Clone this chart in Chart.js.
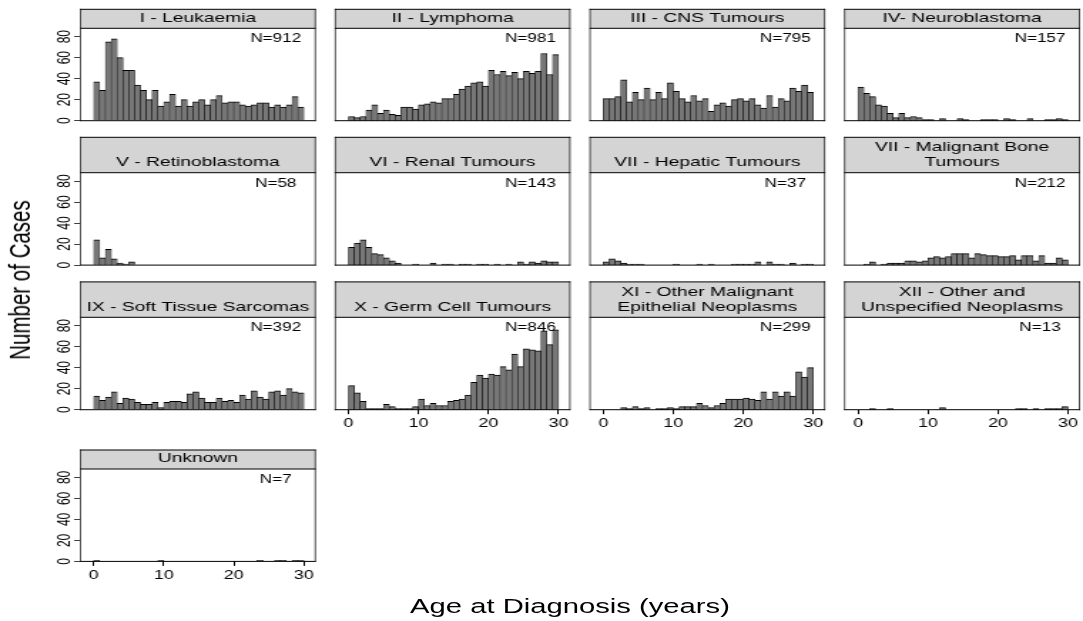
<!DOCTYPE html>
<html>
<head>
<meta charset="utf-8">
<script src="https://cdn.jsdelivr.net/npm/chart.js@4/dist/chart.umd.min.js"></script>
<style>
  html, body { margin: 0; padding: 0; background: #fff; overflow: hidden; }
  #stage { position: absolute; left: 0; top: 0; height: 621px; transform-origin: 0 0; }
  #stage canvas { position: absolute; left: 0; top: 0; }
  .axis-title { position: absolute; font-family: "Liberation Sans", Arial, sans-serif; font-size: 20.5px; color: #000; white-space: nowrap; transform: translate(-50%, -50%); }
</style>
</head>
<body>
<div id="stage"></div>
<script>
// ---- data: cases per 10-month age bin, ages 0 to 30 years ----
const binStartMonths = [0, 10, 20, 30, 40, 50, 60, 70, 80, 90, 100, 110, 120, 130, 140, 150, 160, 170,
                        180, 190, 200, 210, 220, 230, 240, 250, 260, 270, 280, 290, 300, 310, 320, 330, 340, 350];
const binWidthMonths = 10;

const panelTitles = [
  ["I - Leukaemia"], ["II - Lymphoma"], ["III - CNS Tumours"], ["IV- Neuroblastoma"],
  ["V - Retinoblastoma"], ["VI - Renal Tumours"], ["VII - Hepatic Tumours"], ["VII - Malignant Bone", "Tumours"],
  ["IX - Soft Tissue Sarcomas"], ["X - Germ Cell Tumours"], ["XI - Other Malignant", "Epithelial Neoplasms"],
  ["XII - Other and", "Unspecified Neoplasms"], ["Unknown"]
];
const panelTotals = [912, 981, 795, 157, 58, 143, 37, 212, 392, 846, 299, 13, 7];

const leukaemia      = [37, 29, 75, 78, 60, 48, 48, 34, 29, 20, 29, 14, 18, 25, 14, 20, 14, 18, 20, 15, 20, 24, 17, 18, 18, 15, 14, 15, 17, 17, 13, 15, 13, 15, 23, 13];
const lymphoma       = [4, 3, 4, 10, 15, 7, 10, 6, 5, 13, 13, 11, 15, 16, 18, 17, 21, 21, 25, 30, 33, 36, 37, 33, 48, 44, 47, 43, 46, 40, 47, 45, 47, 64, 44, 63];
const cnsTumours     = [21, 21, 23, 39, 18, 27, 20, 31, 20, 27, 21, 36, 28, 21, 18, 24, 19, 21, 9, 15, 17, 14, 20, 21, 19, 21, 15, 12, 24, 13, 21, 19, 31, 28, 34, 27];
const neuroblastoma  = [32, 26, 23, 15, 14, 7, 3, 7, 3, 4, 3, 1, 1, 0, 2, 0, 0, 2, 1, 0, 0, 1, 1, 1, 0, 2, 1, 0, 0, 2, 0, 0, 1, 1, 2, 1];
const retinoblastoma = [24, 7, 15, 6, 2, 1, 3, 0, 0, 0, 0, 0, 0, 0, 0, 0, 0, 0, 0, 0, 0, 0, 0, 0, 0, 0, 0, 0, 0, 0, 0, 0, 0, 0, 0, 0];
const renalTumours   = [17, 21, 24, 17, 11, 10, 7, 4, 2, 0, 0, 1, 0, 0, 2, 0, 1, 1, 0, 1, 1, 0, 1, 1, 0, 1, 0, 1, 0, 3, 1, 3, 2, 4, 3, 3];
const hepaticTumours = [3, 6, 4, 2, 1, 1, 1, 0, 0, 0, 0, 0, 1, 0, 0, 0, 1, 0, 1, 0, 0, 0, 1, 1, 1, 1, 3, 0, 3, 1, 1, 0, 2, 0, 1, 1];
const boneTumours    = [0, 1, 3, 0, 1, 2, 2, 2, 4, 4, 3, 4, 7, 8, 7, 8, 11, 11, 11, 7, 11, 10, 9, 9, 8, 8, 9, 5, 9, 9, 4, 9, 2, 2, 7, 5];
const softTissue     = [13, 9, 12, 17, 6, 11, 10, 7, 5, 5, 7, 2, 7, 8, 8, 7, 15, 17, 11, 7, 7, 11, 8, 9, 7, 14, 10, 18, 12, 10, 17, 18, 14, 20, 17, 16];
const germCell       = [23, 16, 8, 1, 1, 1, 5, 3, 1, 1, 1, 3, 10, 4, 6, 4, 4, 8, 9, 10, 14, 26, 33, 30, 34, 33, 41, 38, 53, 41, 58, 57, 56, 75, 62, 76];
const epithelial     = [0, 0, 0, 2, 1, 3, 1, 2, 0, 1, 1, 2, 1, 3, 3, 3, 6, 4, 2, 4, 6, 10, 10, 10, 11, 10, 9, 17, 10, 17, 13, 17, 13, 36, 31, 40];
const otherNeoplasms = [0, 0, 1, 0, 0, 1, 0, 0, 0, 0, 0, 0, 0, 0, 2, 0, 0, 0, 0, 0, 0, 0, 0, 0, 0, 0, 0, 1, 1, 0, 1, 0, 1, 1, 1, 3];
const unknownGroup   = [1, 0, 0, 0, 0, 0, 0, 0, 0, 0, 0, 1, 0, 0, 0, 0, 0, 0, 0, 0, 0, 0, 0, 0, 0, 0, 0, 0, 1, 0, 0, 1, 1, 0, 1, 1];

const panelSeries = [leukaemia, lymphoma, cnsTumours, neuroblastoma, retinoblastoma, renalTumours, hepaticTumours,
                     boneTumours, softTissue, germCell, epithelial, otherNeoplasms, unknownGroup];

const xTickValues = [0, 10, 20, 30];
const yTickValues = [0, 20, 40, 60, 80];

// ---- layout (page pixels) ----
const PAGE_W = 1083, PAGE_H = 621;
const STAGE_W = 760;                 // drawing width; stage is stretched horizontally to the page
const KX = PAGE_W / STAGE_W;
const FAMILY = '"Liberation Sans", Arial, Helvetica, sans-serif';

const colLeft  = [80.5, 335.2, 590, 844.7];
const panelW   = 234.7;
const rowTop   = [28.3, 172.7, 317.3, 469];
const panelH   = 92.4;
const stripH   = [19, 35.4, 35.4, 19];
const xRange   = [-1.9, 31.63];
const yRange   = [0, 88];
const countLabelAt = [26, 78];
const yLabelCenterX = 65.5;

const Y_AXIS_W = 20, X_AXIS_H = 26;
const BAR_FILL = '#777777', STRIP_FILL = '#d4d4d4';

const stage = document.getElementById('stage');
stage.style.width = STAGE_W + 'px';
stage.style.transform = 'scaleX(' + KX + ')';

// panel frame, strip with its title, vertical tick labels and the case count
const panelDecor = {
  id: 'panelDecor',
  afterDatasetsDraw(chart, args, o) {
    const { ctx, chartArea: a, scales } = chart;
    const vw = 1 / KX;
    ctx.save();
    ctx.fillStyle = '#000';
    ctx.font = '12px ' + FAMILY;
    ctx.textAlign = 'center';
    ctx.textBaseline = 'middle';
    ctx.fillText('N=' + o.total, scales.x.getPixelForValue(countLabelAt[0]), scales.y.getPixelForValue(countLabelAt[1]));

    if (o.showY) {
      for (const v of yTickValues) {
        ctx.save();
        ctx.translate(yLabelCenterX / KX, scales.y.getPixelForValue(v));
        ctx.rotate(-Math.PI / 2);
        ctx.fillText(String(v), 0, 0);
        ctx.restore();
      }
    }

    const sTop = a.top - o.stripH;
    ctx.fillStyle = STRIP_FILL;
    ctx.fillRect(a.left, sTop, a.right - a.left, o.stripH);

    ctx.fillStyle = '#000';
    const hLine = (y) => ctx.fillRect(a.left - vw / 2, y - 0.5, a.right - a.left + vw, 1);
    const vLine = (x, y0, y1) => ctx.fillRect(x - vw / 2, y0 - 0.5, vw, y1 - y0 + 1);
    hLine(sTop); hLine(a.top); hLine(a.bottom);
    vLine(a.left, sTop, a.bottom); vLine(a.right, sTop, a.bottom);

    ctx.font = '13.5px ' + FAMILY;
    ctx.textBaseline = 'middle';
    const cx = (a.left + a.right) / 2;
    const lines = o.title;
    for (let i = 0; i < lines.length; i++) {
      const fromBottom = lines.length - 1 - i;
      ctx.fillText(lines[i], cx, a.top - 10.5 - fromBottom * 14.5);
    }
    ctx.restore();
  }
};

panelSeries.forEach((counts, i) => {
  const row = Math.floor(i / 4), col = i % 4;
  const showY = col === 0;
  const showX = (row === 2 && col > 0) || row === 3;

  const canvas = document.createElement('canvas');
  canvas.width = STAGE_W; canvas.height = PAGE_H;
  canvas.style.width = STAGE_W + 'px'; canvas.style.height = PAGE_H + 'px';
  stage.appendChild(canvas);

  const left = colLeft[col] / KX, right = (colLeft[col] + panelW) / KX;
  const top = rowTop[row], bottom = rowTop[row] + panelH;

  new Chart(canvas, {
    type: 'bar',
    data: {
      datasets: [{
        data: counts.map((c, k) => ({ x: (binStartMonths[k] + binWidthMonths / 2) / 12, y: c })),
        backgroundColor: BAR_FILL,
        borderColor: '#000',
        borderWidth: { top: 1, left: 0.5, right: 0.5, bottom: 0 },
        borderSkipped: false,
        barPercentage: 1,
        categoryPercentage: 1
      }]
    },
    options: {
      responsive: false,
      animation: false,
      events: [],
      layout: {
        padding: {
          left: left - (showY ? Y_AXIS_W : 0),
          right: STAGE_W - right,
          top: top,
          bottom: PAGE_H - bottom - (showX ? X_AXIS_H : 0)
        }
      },
      plugins: {
        legend: { display: false },
        tooltip: { enabled: false },
        title: { display: false },
        panelDecor: { title: panelTitles[i], total: panelTotals[i], stripH: stripH[row], showY: showY }
      },
      scales: {
        x: {
          type: 'linear', min: xRange[0], max: xRange[1], offset: false, display: showX,
          afterBuildTicks: (s) => { s.ticks = xTickValues.map(v => ({ value: v })); },
          afterFit: (s) => { s.height = showX ? X_AXIS_H : 0; },
          grid: { display: true, offset: false, drawOnChartArea: false, drawTicks: true, tickLength: 4.5, color: '#000', lineWidth: 1 },
          border: { display: false },
          ticks: { color: '#000', font: { family: FAMILY, size: 12.5 }, padding: 2, maxRotation: 0, minRotation: 0, autoSkip: false }
        },
        y: {
          type: 'linear', min: yRange[0], max: yRange[1], display: showY,
          afterBuildTicks: (s) => { s.ticks = yTickValues.map(v => ({ value: v })); },
          afterFit: (s) => { s.width = showY ? Y_AXIS_W : 0; },
          grid: { display: true, offset: false, drawOnChartArea: false, drawTicks: true, tickLength: 4.5, color: '#000', lineWidth: 0.75 },
          border: { display: false },
          ticks: { display: false }
        }
      }
    },
    plugins: [panelDecor]
  });
});

// axis titles
function addTitle(text, xPage, y, rotate) {
  const d = document.createElement('div');
  d.className = 'axis-title';
  d.textContent = text;
  d.style.left = (xPage / KX) + 'px';
  d.style.top = y + 'px';
  if (rotate) d.style.transform = 'translate(-50%, -50%) rotate(-90deg)';
  stage.appendChild(d);
}
addTitle('Number of Cases', 20, 280, true);
addTitle('Age at Diagnosis (years)', 570, 606, false);
</script>
</body>
</html>
